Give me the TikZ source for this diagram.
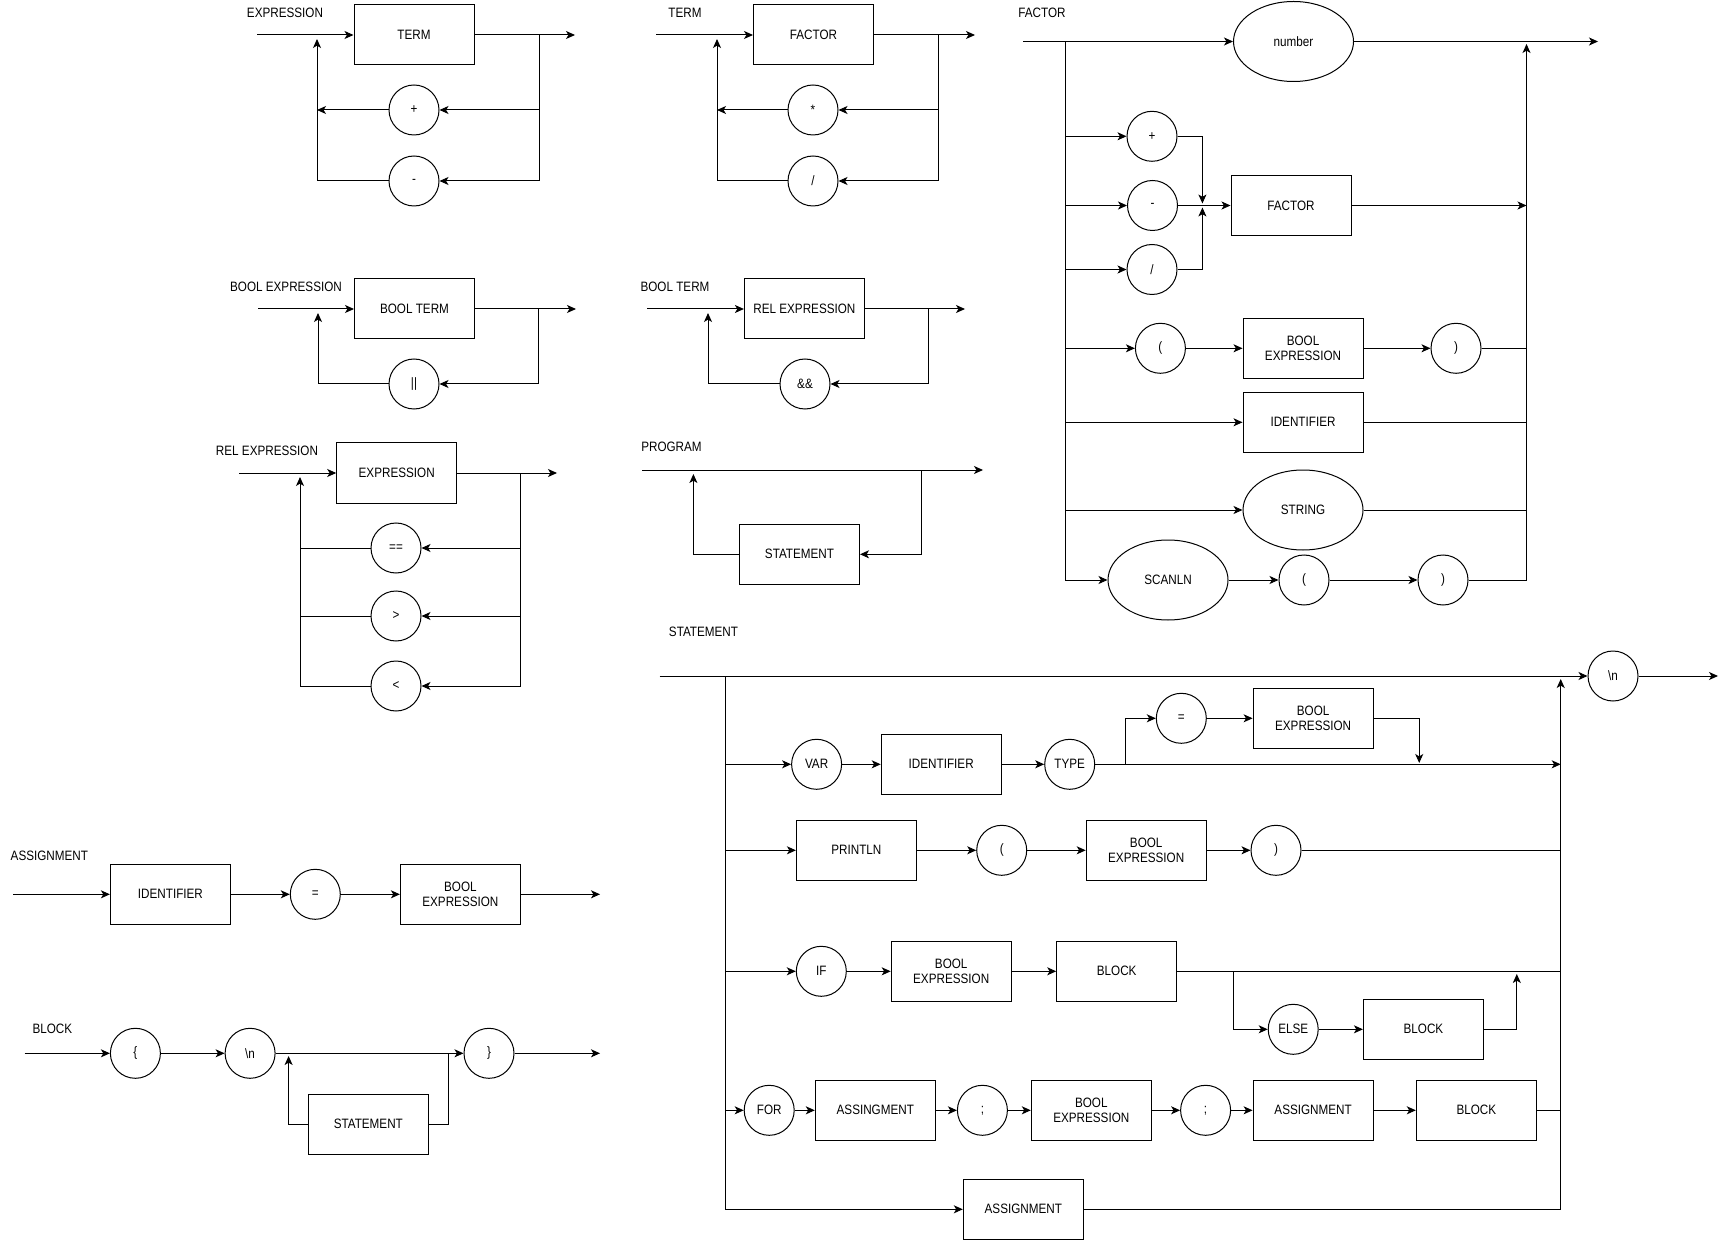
\documentclass[tikz,border=0pt]{standalone}
\usepackage{fontspec}
\setmainfont{Liberation Sans}[FakeStretch=0.86]
\usetikzlibrary{arrows.meta,shapes.geometric,calc}
\begin{document}
\begin{tikzpicture}[x=0.5pt,y=-0.5pt, font=\fontsize{6.8}{7.5}\selectfont, line width=0.5pt,
 box/.style={draw, rectangle, minimum width=60pt, minimum height=30pt, inner sep=0pt, align=center},
 circ/.style={draw, circle, minimum size=25pt, inner sep=0pt},
 ell/.style={draw, ellipse, minimum width=60pt, minimum height=40pt, inner sep=0pt},
 lbl/.style={inner sep=0pt},
 arr/.style={-{Stealth[length=4.5pt,width=4pt,inset=1.2pt]}}]
\useasboundingbox (0,0) rectangle (1727,1240);

% ---------------- EXPRESSION
\node[lbl] (eL) at (285,13) {EXPRESSION};
\coordinate (eIn) at (257,35);
\node[box] (eT) at (414,35) {TERM};
\coordinate (eOut) at (575,35);
\coordinate (eR) at (539,35);
\node[circ] (eP) at (414,110) {+};
\node[circ] (eM) at (414,181) {-};
\coordinate (eUp) at (317,39);
\draw[arr] (eIn) -- (eT);
\draw[arr] (eT) -- (eOut);
\draw[arr] (eR) |- (eP);
\draw[arr] (eR) |- (eM);
\draw[arr] (eP) -- (eP -| eUp);
\draw[arr] (eM) -| (eUp);

% ---------------- TERM
\node[lbl] (tL) at (685,13) {TERM};
\coordinate (tIn) at (656,35);
\node[box] (tF) at (813.5,35) {FACTOR};
\coordinate (tOut) at (975,35);
\coordinate (tR) at (938,35);
\node[circ] (tS) at (813,110) {*};
\node[circ] (tD) at (813,181) {/};
\coordinate (tUp) at (717,39);
\draw[arr] (tIn) -- (tF);
\draw[arr] (tF) -- (tOut);
\draw[arr] (tR) |- (tS);
\draw[arr] (tR) |- (tD);
\draw[arr] (tS) -- (tS -| tUp);
\draw[arr] (tD) -| (tUp);

% ---------------- BOOL EXPRESSION
\node[lbl] (beL) at (286,287) {BOOL EXPRESSION};
\coordinate (beIn) at (258,309);
\node[box] (beT) at (414.5,309) {BOOL TERM};
\coordinate (beOut) at (576,309);
\coordinate (beR) at (538.3,309);
\node[circ] (beO) at (414,384) {||};
\coordinate (beUp) at (318,313);
\draw[arr] (beIn) -- (beT);
\draw[arr] (beT) -- (beOut);
\draw[arr] (beR) |- (beO);
\draw[arr] (beO) -| (beUp);

% ---------------- BOOL TERM
\node[lbl] (btL) at (675,287) {BOOL TERM};
\coordinate (btIn) at (647,309);
\node[box] (btT) at (804.4,309) {REL EXPRESSION};
\coordinate (btOut) at (965,309);
\coordinate (btR) at (928.6,309);
\node[circ] (btA) at (805,384) {\&\&};
\coordinate (btUp) at (708,313);
\draw[arr] (btIn) -- (btT);
\draw[arr] (btT) -- (btOut);
\draw[arr] (btR) |- (btA);
\draw[arr] (btA) -| (btUp);

% ---------------- REL EXPRESSION
\node[lbl] (reL) at (267,451) {REL EXPRESSION};
\coordinate (reIn) at (239,473);
\node[box] (reT) at (396.7,473) {EXPRESSION};
\coordinate (reOut) at (557,473);
\coordinate (reR) at (520.4,473);
\node[circ] (reEq) at (396,548) {==};
\node[circ] (reGt) at (396,616) {>};
\node[circ] (reLt) at (396,686) {<};
\coordinate (reUp) at (300,477);
\draw[arr] (reIn) -- (reT);
\draw[arr] (reT) -- (reOut);
\draw[arr] (reR) |- (reEq);
\draw[arr] (reR) |- (reGt);
\draw[arr] (reR) |- (reLt);
\draw (reEq) -- (reEq -| reUp);
\draw (reGt) -- (reGt -| reUp);
\draw[arr] (reLt) -| (reUp);

% ---------------- PROGRAM
\node[lbl] (pL) at (671.5,447) {PROGRAM};
\coordinate (pIn) at (642,470);
\coordinate (pOut) at (983,470);
\coordinate (pR) at (921.4,470);
\node[box] (pS) at (799.5,554.3) {STATEMENT};
\coordinate (pUp) at (693.4,474);
\draw[arr] (pIn) -- (pOut);
\draw[arr] (pR) |- (pS);
\draw[arr] (pS) -| (pUp);

% ---------------- FACTOR
\node[lbl] (fLb) at (1042,13) {FACTOR};
\coordinate (fIn) at (1023,41.5);
\node[ell] (fNum) at (1293.5,41.5) {number};
\coordinate (fOut) at (1598,41.5);
\coordinate (fL) at (1065,41.5);
\coordinate (fRb) at (1526.5,580);
\coordinate (fRt) at (1526.5,44);
\node[circ] (fPl) at (1152,136.3) {+};
\node[circ] (fMi) at (1152.5,205.5) {-};
\node[circ] (fSl) at (1152,269.5) {/};
\coordinate (fMt) at (1202.4,203.5);
\coordinate (fMb) at (1202.4,207.5);
\node[box] (fFac) at (1291,205.5) {FACTOR};
\node[circ] (fBl) at (1160.4,348.3) {(};
\node[box] (fBe) at (1303,348.3) {BOOL\\EXPRESSION};
\node[circ] (fBr) at (1456,348.3) {)};
\node[box] (fId) at (1303,422.3) {IDENTIFIER};
\node[ell] (fStr) at (1303,510) {STRING};
\node[ell] (fScan) at (1168,580) {SCANLN};
\node[circ] (fSl2) at (1304,580) {(};
\node[circ] (fSr) at (1443,580) {)};
\draw[arr] (fIn) -- (fNum);
\draw[arr] (fNum) -- (fOut);
\draw[arr] (fL) |- (fScan);
\draw[arr] (fL |- fPl) -- (fPl);
\draw[arr] (fL |- fMi) -- (fMi);
\draw[arr] (fL |- fSl) -- (fSl);
\draw[arr] (fL |- fBl) -- (fBl);
\draw[arr] (fL |- fId) -- (fId);
\draw[arr] (fL |- fStr) -- (fStr);
\draw[arr] (fPl) -| (fMt);
\draw[arr] (fSl) -| (fMb);
\draw[arr] (fMi) -- (fFac);
\draw[arr] (fBl) -- (fBe);
\draw[arr] (fBe) -- (fBr);
\draw[arr] (fScan) -- (fSl2);
\draw[arr] (fSl2) -- (fSr);
\draw[arr] (fFac) -- (fFac -| fRb);
\draw (fBr) -- (fBr -| fRb);
\draw (fId) -- (fId -| fRb);
\draw (fStr) -- (fStr -| fRb);
\draw (fSr) -- (fRb);
\draw[arr] (fRb) -- (fRt);

% ---------------- ASSIGNMENT
\node[lbl] (aL) at (49.4,856) {ASSIGNMENT};
\coordinate (aIn) at (13,894.3);
\node[box] (aId) at (170.4,894.3) {IDENTIFIER};
\node[circ] (aEq) at (315.3,894.3) {=};
\node[box] (aBe) at (460.4,894.3) {BOOL\\EXPRESSION};
\coordinate (aOut) at (600,894.3);
\draw[arr] (aIn) -- (aId);
\draw[arr] (aId) -- (aEq);
\draw[arr] (aEq) -- (aBe);
\draw[arr] (aBe) -- (aOut);

% ---------------- BLOCK
\node[lbl] (bL) at (52.4,1029) {BLOCK};
\coordinate (bIn) at (24.5,1053.3);
\node[circ] (bLb) at (135.4,1053.3) {\{};
\node[circ] (bNl) at (250.1,1053.3) {\textbackslash n};
\node[circ] (bRb) at (489,1053.3) {\}};
\coordinate (bOut) at (600,1053.3);
\node[box] (bS) at (368.3,1124.3) {STATEMENT};
\coordinate (bJ) at (448,1053.3);
\coordinate (bUp) at (288.6,1056);
\draw[arr] (bIn) -- (bLb);
\draw[arr] (bLb) -- (bNl);
\draw[arr] (bNl) -- (bRb);
\draw[arr] (bRb) -- (bOut);
\draw (bJ) |- (bS);
\draw[arr] (bS) -| (bUp);

% ---------------- STATEMENT
\node[lbl] (sLb) at (703.5,632) {STATEMENT};
\coordinate (sIn) at (659.6,676);
\node[circ] (sNl) at (1613,676) {\textbackslash n};
\coordinate (sOut) at (1718,676);
\coordinate (sL) at (725,676);
\coordinate (sRt) at (1560.7,679);
% VAR row
\node[circ] (sVar) at (816.6,764.3) {VAR};
\node[box] (sId) at (941.2,764.3) {IDENTIFIER};
\node[circ] (sType) at (1069.7,764.3) {TYPE};
\coordinate (sVb) at (1125.3,764.3);
\node[circ] (sEq) at (1181.3,718.3) {=};
\node[box] (sBe1) at (1313.1,718.3) {BOOL\\EXPRESSION};
\coordinate (sVd) at (1419.2,763);
% PRINTLN row
\node[box] (sPr) at (856.4,850.3) {PRINTLN};
\node[circ] (sPl) at (1001.7,850.3) {(};
\node[box] (sBe2) at (1146.2,850.3) {BOOL\\EXPRESSION};
\node[circ] (sPr2) at (1276,850.3) {)};
% IF row
\node[circ] (sIf) at (821.3,971.3) {IF};
\node[box] (sBe3) at (951.2,971.3) {BOOL\\EXPRESSION};
\node[box] (sBlk1) at (1116.7,971.3) {BLOCK};
\coordinate (sIb) at (1233.1,971.3);
\node[circ] (sElse) at (1293.2,1029.3) {ELSE};
\node[box] (sBlk2) at (1423.4,1029.3) {BLOCK};
\coordinate (sEu) at (1516.8,974);
% FOR row
\node[circ] (sFor) at (769.2,1110.3) {FOR};
\node[box] (sAs1) at (875.3,1110.3) {ASSINGMENT};
\node[circ] (sSc1) at (982.4,1110.3) {;};
\node[box] (sBe4) at (1091.3,1110.3) {BOOL\\EXPRESSION};
\node[circ] (sSc2) at (1205.6,1110.3) {;};
\node[box] (sAs2) at (1313.1,1110.3) {ASSIGNMENT};
\node[box] (sBlk3) at (1476.3,1110.3) {BLOCK};
% ASSIGNMENT row
\node[box] (sAsg) at (1023.3,1209.3) {ASSIGNMENT};

\draw[arr] (sIn) -- (sNl);
\draw[arr] (sNl) -- (sOut);
\draw[arr] (sL) |- (sAsg);
\draw[arr] (sL |- sVar) -- (sVar);
\draw[arr] (sVar) -- (sId);
\draw[arr] (sId) -- (sType);
\draw[arr] (sType) -- (sType -| sRt);
\draw[arr] (sVb) |- (sEq);
\draw[arr] (sEq) -- (sBe1);
\draw[arr] (sBe1) -| (sVd);
\draw[arr] (sL |- sPr) -- (sPr);
\draw[arr] (sPr) -- (sPl);
\draw[arr] (sPl) -- (sBe2);
\draw[arr] (sBe2) -- (sPr2);
\draw (sPr2) -- (sPr2 -| sRt);
\draw[arr] (sL |- sIf) -- (sIf);
\draw[arr] (sIf) -- (sBe3);
\draw[arr] (sBe3) -- (sBlk1);
\draw (sBlk1) -- (sBlk1 -| sRt);
\draw[arr] (sIb) |- (sElse);
\draw[arr] (sElse) -- (sBlk2);
\draw[arr] (sBlk2) -| (sEu);
\draw[arr] (sL |- sFor) -- (sFor);
\draw[arr] (sFor) -- (sAs1);
\draw[arr] (sAs1) -- (sSc1);
\draw[arr] (sSc1) -- (sBe4);
\draw[arr] (sBe4) -- (sSc2);
\draw[arr] (sSc2) -- (sAs2);
\draw[arr] (sAs2) -- (sBlk3);
\draw (sBlk3) -- (sBlk3 -| sRt);
\draw (sAsg) -- (sAsg -| sRt);
\draw[arr] (sAsg -| sRt) -- (sRt);
\end{tikzpicture}
\end{document}
